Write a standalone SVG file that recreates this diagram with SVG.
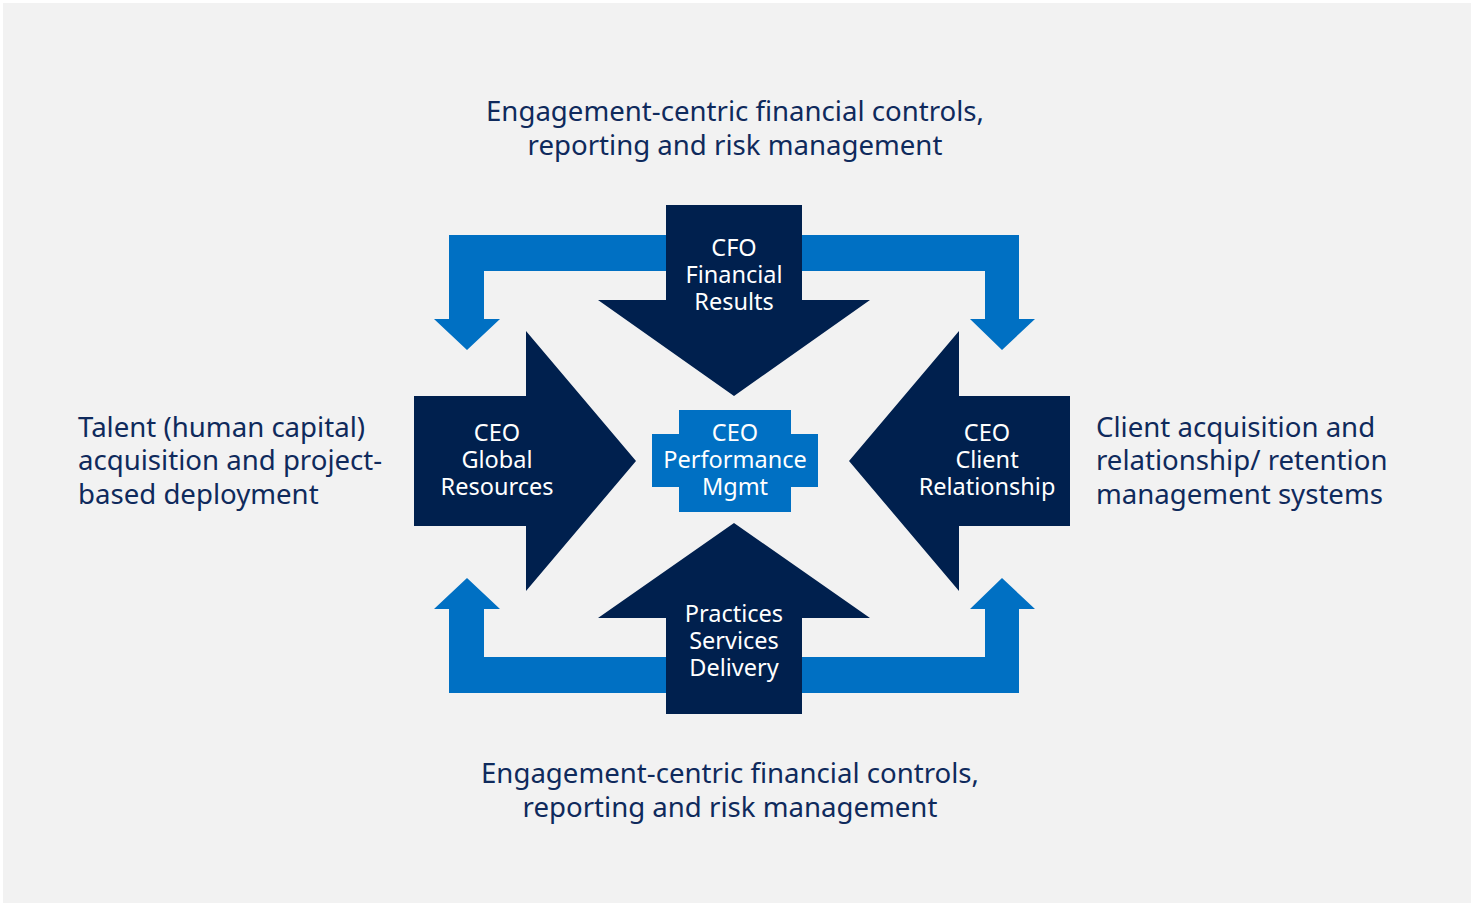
<svg xmlns="http://www.w3.org/2000/svg" width="1473" height="905" viewBox="0 0 1473 905">
<style>
.lbl{font-family:"Noto Sans","Liberation Sans",sans-serif;font-size:27.6px;fill:#0f2a5c}
.in{font-family:"Noto Sans","Liberation Sans",sans-serif;font-size:23.5px;fill:#ffffff;text-anchor:middle}
.navy{fill:#00204e}
.blue{fill:#0070c3}
</style>
<rect x="0" y="0" width="1473" height="905" fill="#ffffff"/>
<rect x="3" y="3" width="1468" height="900" fill="#f2f2f2"/>
<g id="connectors">
<path class="blue" d="M449,235 H1019 V319 H1035 L1002,350 L970,319 H985 V271 H484 V319 H500 L467,350 L434,319 H449 Z"/>
<path class="blue" d="M449,693 H1019 V609 H1035 L1002,578 L970,609 H985 V657 H484 V609 H500 L467,578 L434,609 H449 Z"/>
</g>
<g id="cfo">
<path class="navy" d="M666,205 H802 V300 H870 L734,396 L598,300 H666 Z"/>
<text class="in"><tspan x="734" y="256">CFO</tspan><tspan x="734" y="283">Financial</tspan><tspan x="734" y="310">Results</tspan></text>
</g>
<g id="practices">
<path class="navy" d="M666,714 H802 V618 H870 L734,523 L598,618 H666 Z"/>
<text class="in"><tspan x="734" y="622">Practices</tspan><tspan x="734" y="649">Services</tspan><tspan x="734" y="676">Delivery</tspan></text>
</g>
<g id="global">
<path class="navy" d="M414,396 H526 V331 L636,461 L526,591 V526 H414 Z"/>
<text class="in"><tspan x="497" y="441">CEO</tspan><tspan x="497" y="468">Global</tspan><tspan x="497" y="495">Resources</tspan></text>
</g>
<g id="client">
<path class="navy" d="M1070,396 H959 V331 L849,461 L959,591 V526 H1070 Z"/>
<text class="in"><tspan x="987" y="441">CEO</tspan><tspan x="987" y="468">Client</tspan><tspan x="987" y="495">Relationship</tspan></text>
</g>
<g id="performance">
<path class="blue" d="M679,410 H791 V434 H818 V487 H791 V512 H679 V487 H652 V434 H679 Z"/>
<text class="in"><tspan x="735" y="441">CEO</tspan><tspan x="735" y="468">Performance</tspan><tspan x="735" y="495">Mgmt</tspan></text>
</g>
<g id="top-label">
<text class="lbl" text-anchor="middle"><tspan x="735" y="121">Engagement-centric financial controls,</tspan><tspan x="735" y="155">reporting and risk management</tspan></text>
</g>
<g id="bottom-label">
<text class="lbl" text-anchor="middle"><tspan x="730" y="783">Engagement-centric financial controls,</tspan><tspan x="730" y="817">reporting and risk management</tspan></text>
</g>
<g id="left-label">
<text class="lbl"><tspan x="78" y="437">Talent (human capital)</tspan><tspan x="78" y="470">acquisition and project-</tspan><tspan x="78" y="504">based deployment</tspan></text>
</g>
<g id="right-label">
<text class="lbl"><tspan x="1096" y="437">Client acquisition and</tspan><tspan x="1096" y="470">relationship/ retention</tspan><tspan x="1096" y="504">management systems</tspan></text>
</g>
</svg>
